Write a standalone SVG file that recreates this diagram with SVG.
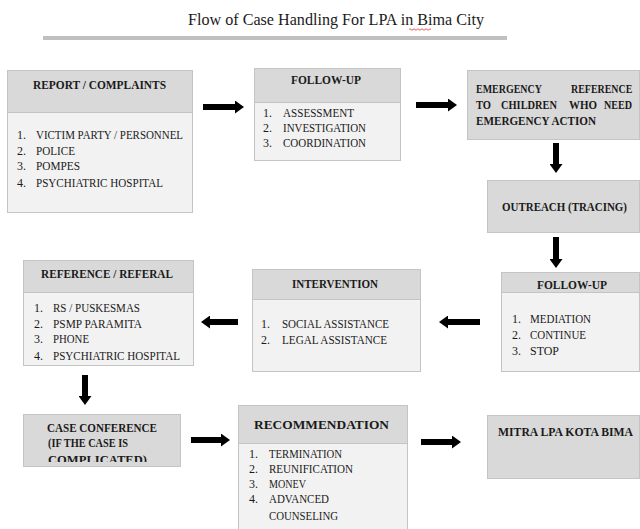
<svg xmlns="http://www.w3.org/2000/svg" width="640" height="529" viewBox="0 0 640 529">
<style>
text{font-family:"Liberation Serif","Times New Roman",serif;fill:#1a1a1a}
.t{font-size:12px;font-weight:bold}
.i{font-size:12px}
.hd{fill:#d9d9d9;stroke:#c4c4c4;stroke-width:1}
.bd{fill:#f2f2f2;stroke:#c4c4c4;stroke-width:1}
.ar{stroke:#000;stroke-width:6;fill:none}
</style>
<defs>
<marker id="ah" markerWidth="9" markerHeight="13" refX="0" refY="6.5" orient="auto" markerUnits="userSpaceOnUse"><path d="M0,0 L9,6.5 L0,13 z" fill="#000"/></marker>
<clipPath id="ccClip"><rect x="23" y="414" width="157" height="48"/></clipPath>
</defs>
<rect width="640" height="529" fill="#fff"/>
<g id="title">
<text x="188" y="25" font-size="17" textLength="296" lengthAdjust="spacingAndGlyphs">Flow of Case Handling For LPA in Bima City</text>
<path d="M409,29.5 q1,-1.5 2,0 t2,0 t2,0 t2,0 t2,0 t2,0 t2,0 t2,0 t2,0 t2,0 t2,0" fill="none" stroke="#e03030" stroke-width="0.8"/>
<rect x="43" y="36" width="464" height="4" fill="#c0c0c0"/>
</g>
<g id="connectors">
<line class="ar" x1="203" y1="107" x2="235" y2="107" marker-end="url(#ah)"/>
<line class="ar" x1="416" y1="105" x2="448" y2="105" marker-end="url(#ah)"/>
<line class="ar" x1="556" y1="143" x2="556" y2="164" marker-end="url(#ah)"/>
<line class="ar" x1="556" y1="237" x2="556" y2="259" marker-end="url(#ah)"/>
<line class="ar" x1="480" y1="322" x2="448" y2="322" marker-end="url(#ah)"/>
<line class="ar" x1="238" y1="322" x2="210" y2="322" marker-end="url(#ah)"/>
<line class="ar" x1="85" y1="375" x2="85" y2="396" marker-end="url(#ah)"/>
<line class="ar" x1="191" y1="440" x2="221" y2="440" marker-end="url(#ah)"/>
<line class="ar" x1="421" y1="442" x2="452" y2="442" marker-end="url(#ah)"/>
</g>
<g id="report">
<rect class="bd" x="7.5" y="70.5" width="185" height="142"/>
<rect class="hd" x="7.5" y="70.5" width="185" height="42"/>
<text class="t" x="33" y="89" textLength="133" lengthAdjust="spacingAndGlyphs">REPORT / COMPLAINTS</text>
<text class="i" x="17" y="139">1.</text><text class="i" x="36" y="139" textLength="147" lengthAdjust="spacingAndGlyphs">VICTIM PARTY / PERSONNEL</text>
<text class="i" x="17" y="155">2.</text><text class="i" x="36" y="155" textLength="39" lengthAdjust="spacingAndGlyphs">POLICE</text>
<text class="i" x="17" y="170">3.</text><text class="i" x="36" y="170" textLength="44" lengthAdjust="spacingAndGlyphs">POMPES</text>
<text class="i" x="17" y="187">4.</text><text class="i" x="36" y="187" textLength="127" lengthAdjust="spacingAndGlyphs">PSYCHIATRIC HOSPITAL</text>
</g>
<g id="followup1">
<rect class="bd" x="254.5" y="68.5" width="146" height="92"/>
<rect class="hd" x="254.5" y="68.5" width="146" height="34"/>
<text class="t" x="291" y="84" textLength="70" lengthAdjust="spacingAndGlyphs">FOLLOW-UP</text>
<text class="i" x="263" y="117">1.</text><text class="i" x="283" y="117" textLength="71" lengthAdjust="spacingAndGlyphs">ASSESSMENT</text>
<text class="i" x="263" y="132">2.</text><text class="i" x="283" y="132" textLength="83" lengthAdjust="spacingAndGlyphs">INVESTIGATION</text>
<text class="i" x="263" y="147">3.</text><text class="i" x="283" y="147" textLength="83" lengthAdjust="spacingAndGlyphs">COORDINATION</text>
</g>
<g id="emergency">
<rect class="hd" x="467.5" y="70.5" width="172" height="69"/>
<text class="t" x="476" y="93" textLength="66" lengthAdjust="spacingAndGlyphs">EMERGENCY</text>
<text class="t" transform="translate(571,93) scale(0.83,1)" x="0" y="0">REFERENCE</text>
<text class="t" x="476" y="109" textLength="15" lengthAdjust="spacingAndGlyphs">TO</text>
<text class="t" x="501" y="109" textLength="56" lengthAdjust="spacingAndGlyphs">CHILDREN</text>
<text class="t" x="569" y="109" textLength="28" lengthAdjust="spacingAndGlyphs">WHO</text>
<text class="t" x="604" y="109" textLength="28" lengthAdjust="spacingAndGlyphs">NEED</text>
<text class="t" x="476" y="125" textLength="120" lengthAdjust="spacingAndGlyphs">EMERGENCY ACTION</text>
</g>
<g id="outreach">
<rect class="hd" x="487.5" y="180.5" width="152" height="52"/>
<text class="t" x="502" y="211" textLength="125" lengthAdjust="spacingAndGlyphs">OUTREACH (TRACING)</text>
</g>
<g id="followup2">
<rect class="bd" x="501.5" y="272.5" width="138" height="99"/>
<rect class="hd" x="501.5" y="272.5" width="138" height="20"/>
<text class="t" x="537" y="289" textLength="70" lengthAdjust="spacingAndGlyphs">FOLLOW-UP</text>
<text class="i" x="512" y="323">1.</text><text class="i" x="530" y="323" textLength="61" lengthAdjust="spacingAndGlyphs">MEDIATION</text>
<text class="i" x="512" y="339">2.</text><text class="i" x="530" y="339" textLength="56" lengthAdjust="spacingAndGlyphs">CONTINUE</text>
<text class="i" x="512" y="355">3.</text><text class="i" x="530" y="355" textLength="29" lengthAdjust="spacingAndGlyphs">STOP</text>
</g>
<g id="intervention">
<rect class="bd" x="252.5" y="269.5" width="168" height="102"/>
<rect class="hd" x="252.5" y="269.5" width="168" height="30"/>
<text class="t" x="292" y="288" textLength="86" lengthAdjust="spacingAndGlyphs">INTERVENTION</text>
<text class="i" x="261" y="328">1.</text><text class="i" x="282" y="328" textLength="107" lengthAdjust="spacingAndGlyphs">SOCIAL ASSISTANCE</text>
<text class="i" x="261" y="344">2.</text><text class="i" x="282" y="344" textLength="105" lengthAdjust="spacingAndGlyphs">LEGAL ASSISTANCE</text>
</g>
<g id="reference">
<rect class="bd" x="23.5" y="260.5" width="170" height="105"/>
<rect class="hd" x="23.5" y="260.5" width="170" height="32"/>
<text class="t" x="41" y="278" textLength="132" lengthAdjust="spacingAndGlyphs">REFERENCE / REFERAL</text>
<text class="i" x="34" y="312">1.</text><text class="i" x="53" y="312" textLength="87" lengthAdjust="spacingAndGlyphs">RS / PUSKESMAS</text>
<text class="i" x="34" y="328">2.</text><text class="i" x="53" y="328" textLength="89" lengthAdjust="spacingAndGlyphs">PSMP PARAMITA</text>
<text class="i" x="34" y="343">3.</text><text class="i" x="53" y="343" textLength="36" lengthAdjust="spacingAndGlyphs">PHONE</text>
<text class="i" x="34" y="360">4.</text><text class="i" x="53" y="360" textLength="127" lengthAdjust="spacingAndGlyphs">PSYCHIATRIC HOSPITAL</text>
</g>
<g id="caseconference">
<rect class="hd" x="23.5" y="414.5" width="157" height="52"/>
<g clip-path="url(#ccClip)">
<text class="t" x="47" y="432" textLength="110" lengthAdjust="spacingAndGlyphs">CASE CONFERENCE</text>
<text class="t" x="48" y="447" textLength="80" lengthAdjust="spacingAndGlyphs">(IF THE CASE IS</text>
<text class="t" x="48" y="464" textLength="99" lengthAdjust="spacingAndGlyphs">COMPLICATED)</text>
</g>
</g>
<g id="recommendation">
<rect class="bd" x="238.5" y="405.5" width="169" height="130"/>
<rect class="hd" x="238.5" y="405.5" width="169" height="38"/>
<text class="t" x="254" y="429" font-size="15" textLength="135" lengthAdjust="spacingAndGlyphs">RECOMMENDATION</text>
<text class="i" x="249" y="458">1.</text><text class="i" x="269" y="458" textLength="73" lengthAdjust="spacingAndGlyphs">TERMINATION</text>
<text class="i" x="249" y="473">2.</text><text class="i" x="269" y="473" textLength="84" lengthAdjust="spacingAndGlyphs">REUNIFICATION</text>
<text class="i" x="249" y="488">3.</text><text class="i" x="269" y="488" textLength="37" lengthAdjust="spacingAndGlyphs">MONEV</text>
<text class="i" x="249" y="503">4.</text><text class="i" x="269" y="503" textLength="60" lengthAdjust="spacingAndGlyphs">ADVANCED</text>
<text class="i" x="269" y="520" textLength="69" lengthAdjust="spacingAndGlyphs">COUNSELING</text>
</g>
<g id="mitra">
<rect class="hd" x="487.5" y="415.5" width="152" height="63"/>
<text class="t" x="498" y="436" textLength="135" lengthAdjust="spacingAndGlyphs">MITRA LPA KOTA BIMA</text>
</g>
</svg>
